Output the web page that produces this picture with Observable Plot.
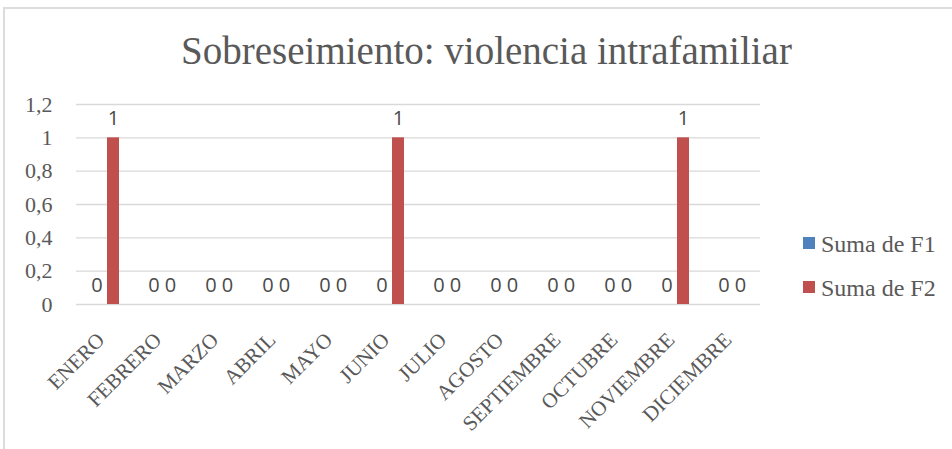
<!DOCTYPE html>
<html>
<head>
<meta charset="utf-8">
<script src="https://cdn.jsdelivr.net/npm/d3@7"></script>
<script src="https://cdn.jsdelivr.net/npm/@observablehq/plot@0.6"></script>
<style>
  html, body { margin: 0; padding: 0; background: #fff; }
  #wrap { position: relative; width: 952px; height: 449px; overflow: hidden; background: #fff; }
  #frame { position: absolute; left: 3px; top: 7px; width: 960px; height: 460px;
           border-top: 2px solid #dcdcdc; border-left: 2px solid #dcdcdc; box-sizing: border-box; }
  #title { position: absolute; left: 0; width: 973px; top: 31px; text-align: center;
           font-family: "Liberation Serif", serif; font-size: 39px; line-height: 39px; color: #595959; white-space: nowrap; }
  .leg { position: absolute; left: 803px; font-family: "Liberation Serif", serif; font-size: 24px;
         line-height: 24px; color: #595959; white-space: nowrap; }
  .sw { position: absolute; width: 12px; height: 12px; }
  .lt { position: absolute; left: 18px; top: 0; }
  #chart { position: absolute; left: 0; top: 0; }
  #chart g[aria-label="y-axis tick label"] { font-size: 22px; font-family: "Liberation Serif", serif; }
  #chart g[aria-label="x-axis tick label"] { font-size: 21px; font-family: "Liberation Serif", serif; }
  #chart g.datalabel { font-size: 20px; font-family: "Open Sans", sans-serif; }
</style>
</head>
<body>
<div id="wrap">
  <div id="frame"></div>
  <div id="chart"></div>
  <div id="title"></div>
  <div id="legend"></div>
</div>
<script>
// ---- data ----
const months = ["ENERO", "FEBRERO", "MARZO", "ABRIL", "MAYO", "JUNIO", "JULIO", "AGOSTO", "SEPTIEMBRE", "OCTUBRE", "NOVIEMBRE", "DICIEMBRE"];
const sumaF1 = [0, 0, 0, 0, 0, 0, 0, 0, 0, 0, 0, 0];
const sumaF2 = [1, 0, 0, 0, 0, 1, 0, 0, 0, 0, 1, 0];
const seriesNames = ["Suma de F1", "Suma de F2"];
const seriesColors = ["#4f81bd", "#c0504d"];
const yTicks = [0, 0.2, 0.4, 0.6, 0.8, 1, 1.2];
const titleText = "Sobreseimiento: violencia intrafamiliar";

const rows = months.map((m, i) => ({month: m, f1: sumaF1[i], f2: sumaF2[i]}));
const fmt = d => String(d).replace(".", ",");

const chart = Plot.plot({
  width: 952,
  height: 449,
  marginLeft: 76,
  marginRight: 192,
  marginTop: 104,
  marginBottom: 145,
  style: {background: "transparent", fontFamily: "Liberation Serif, serif", overflow: "visible"},
  x: {type: "band", domain: months, padding: 0, axis: null},
  y: {domain: [0, 1.2], axis: null},
  marks: [
    Plot.gridY(yTicks, {stroke: "#d9d9d9", strokeOpacity: 1, strokeWidth: 1.3}),
    Plot.axisY(yTicks, {tickSize: 0, tickPadding: 24, tickFormat: fmt, color: "#595959", label: null}),
    Plot.axisX({tickRotate: -45, tickSize: 0, tickPadding: 32, dx: -4, color: "#595959", label: null}),
    Plot.barY(rows, {x: "month", y: "f1", fill: seriesColors[0], insetLeft: 13.5, insetRight: 31.5}),
    Plot.barY(rows, {x: "month", y: "f2", fill: seriesColors[1], insetLeft: 31, insetRight: 14}),
    Plot.text(rows, {x: "month", y: "f1", text: d => fmt(d.f1), dx: -8, dy: -13, lineAnchor: "bottom",
                     className: "datalabel", fill: "#4a4a4a"}),
    Plot.text(rows, {x: "month", y: "f2", text: d => fmt(d.f2), dx: 8.5, dy: -13, lineAnchor: "bottom",
                     className: "datalabel", fill: "#4a4a4a"})
  ]
});
document.getElementById("chart").appendChild(chart);
document.getElementById("title").textContent = titleText;

const legend = document.getElementById("legend");
seriesNames.forEach((name, i) => {
  const item = document.createElement("div");
  item.className = "leg";
  item.style.top = (232 + i * 44) + "px";
  const sw = document.createElement("div");
  sw.className = "sw";
  sw.style.background = seriesColors[i];
  sw.style.top = "5px";
  sw.style.left = "0px";
  const t = document.createElement("div");
  t.className = "lt";
  t.textContent = name;
  item.appendChild(sw);
  item.appendChild(t);
  legend.appendChild(item);
});
</script>
</body>
</html>
